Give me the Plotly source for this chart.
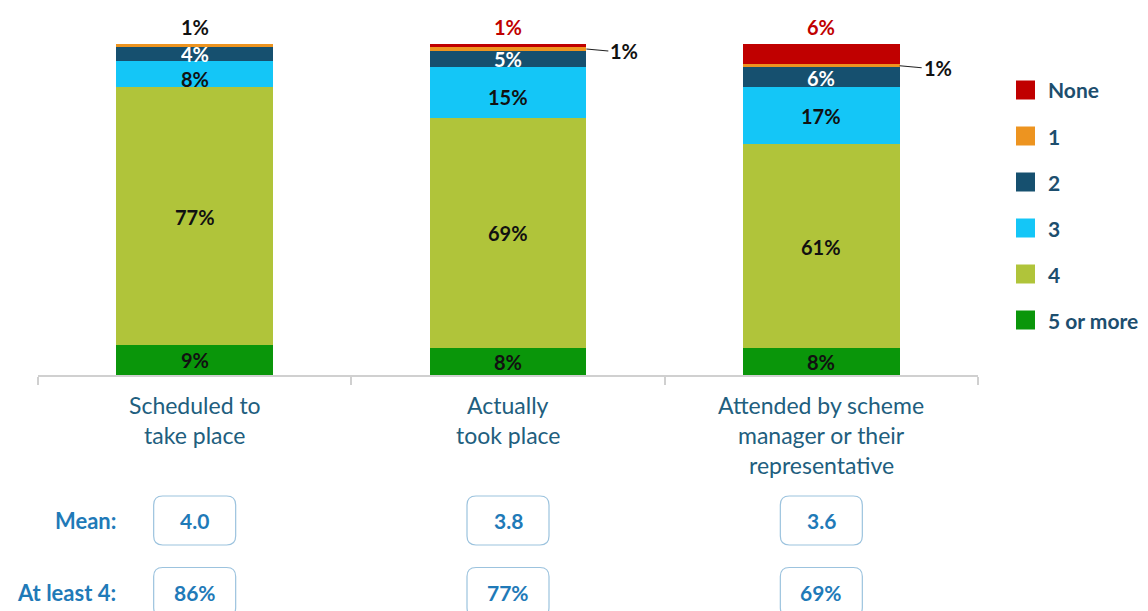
import plotly.graph_objects as go

# ---- data -------------------------------------------------------------
categories = [
    "Scheduled to take place",
    "Actually took place",
    "Attended by scheme manager or their representative",
]
category_lines = [
    ["Scheduled to", "take place"],
    ["Actually", "took place"],
    ["Attended by scheme", "manager or their", "representative"],
]
series_names = ["5 or more", "4", "3", "2", "1", "None"]
five_or_more = [9, 8, 8]
four = [77, 69, 61]
three = [8, 15, 17]
two = [4, 5, 6]
one = [1, 1, 1]
none = [0, 1, 6]
series_values = [five_or_more, four, three, two, one, none]

mean_values = ["4.0", "3.8", "3.6"]
at_least_4 = ["86%", "77%", "69%"]

# ---- styling ----------------------------------------------------------
series_colors = ["#0A960A", "#B0C43A", "#14C6F7", "#16506F", "#ED9420", "#C00000"]
label_colors = ["#111111", "#111111", "#111111", "#FFFFFF", "#111111", "#C00000"]
FONT = "Lato"
CAT_COLOR = "#215E7E"
LEGEND_COLOR = "#1D4E6E"
STAT_COLOR = "#1F7AB8"
BOX_BORDER = "#9CC3DE"
BAR_FONT = 20

W, H = 1148, 611
L, R, T, B = 38, 170, 44, 236
PLOT_W = W - L - R
PLOT_H = H - T - B
BAR_W = 0.5


def py(p):
    """pixel row -> paper y"""
    return (H - B - p) / PLOT_H


def px(p):
    """pixel column -> paper x"""
    return (p - L) / PLOT_W


fig = go.Figure()

for name, vals, col in zip(series_names, series_values, series_colors):
    fig.add_trace(go.Bar(
        x=categories, y=vals, name=name, marker=dict(color=col, line=dict(width=0)),
        width=BAR_W, showlegend=False, hovertemplate="%{x}<br>" + name + ": %{y}%<extra></extra>",
    ))

annotations = []
shapes = []

# ---- value labels -----------------------------------------------------
for ci, cat in enumerate(categories):
    base = 0
    total = sum(v[ci] for v in series_values)
    top_idx = max(si for si, v in enumerate(series_values) if v[ci] > 0)
    inside = []
    for si, vals in enumerate(series_values):
        v = vals[ci]
        if v <= 0:
            continue
        mid = base + v / 2
        txt = f"<b>{v}%</b>"
        if si == top_idx and si >= 4:
            # small top segment: label sits above the bar
            annotations.append(dict(
                x=cat, y=total, xref="x", yref="y", text=txt, showarrow=False,
                yanchor="bottom", yshift=4, height=22,
                font=dict(family=FONT, size=BAR_FONT, color=label_colors[si]),
            ))
        elif si >= 4:
            # thin segment under another: leader line to the right
            annotations.append(dict(
                x=ci + BAR_W / 2, y=mid, xref="x", yref="y", text=txt,
                showarrow=True, arrowhead=0, arrowwidth=1.2, arrowcolor="#222222",
                ax=22, ay=2, xanchor="left", standoff=0,
                font=dict(family=FONT, size=BAR_FONT, color="#111111"),
            ))
        else:
            inside.append(dict(
                x=cat, y=mid, xref="x", yref="y", text=txt, showarrow=False,
                height=17, valign="middle", yshift=0, _v=v,
                font=dict(family=FONT, size=BAR_FONT, color=label_colors[si]),
            ))
        base += v
    # thin segments: nudge their label up and the one below down
    for k in range(1, len(inside)):
        if inside[k]["_v"] <= 5:
            inside[k]["yshift"] += 1
            inside[k - 1]["yshift"] -= 4
    for a in inside:
        a.pop("_v")
        annotations.append(a)

# ---- category names under the axis -----------------------------------
for cat, lines in zip(categories, category_lines):
    for li, line in enumerate(lines):
        annotations.append(dict(
            x=cat, y=py(405 + 30 * li), xref="x", yref="paper", text=line,
            showarrow=False, yanchor="middle",
            font=dict(family=FONT, size=23, color=CAT_COLOR),
        ))

# ---- summary rows (mean / at least 4) --------------------------------
def rounded_box(cx, cy_paper, w=82, h=49, r=9):
    hw, hh = w / 2, h / 2
    path = (
        f"M {-hw + r},{-hh} L {hw - r},{-hh} Q {hw},{-hh} {hw},{-hh + r} "
        f"L {hw},{hh - r} Q {hw},{hh} {hw - r},{hh} "
        f"L {-hw + r},{hh} Q {-hw},{hh} {-hw},{hh - r} "
        f"L {-hw},{-hh + r} Q {-hw},{-hh} {-hw + r},{-hh} Z"
    )
    return dict(
        type="path", path=path, xref="x", yref="paper",
        xsizemode="pixel", ysizemode="pixel", xanchor=cx, yanchor=cy_paper,
        line=dict(color=BOX_BORDER, width=1.2), fillcolor="rgba(0,0,0,0)",
        layer="above",
    )


rows = [("Mean:", mean_values, 520.5), ("At least 4:", at_least_4, 592)]
for title, vals, yc in rows:
    annotations.append(dict(
        x=px(118), y=py(yc), xref="paper", yref="paper", text=f"<b>{title}</b>",
        showarrow=False, xanchor="right", yanchor="middle",
        font=dict(family=FONT, size=22, color=STAT_COLOR),
    ))
    for cat, val in zip(categories, vals):
        shapes.append(rounded_box(cat, py(yc)))
        annotations.append(dict(
            x=cat, y=py(yc), xref="x", yref="paper", text=f"<b>{val}</b>",
            showarrow=False, yanchor="middle",
            font=dict(family=FONT, size=21, color=STAT_COLOR),
        ))

# ---- legend (top to bottom: None ... 5 or more) -----------------------
for k, (name, col) in enumerate(zip(series_names[::-1], series_colors[::-1])):
    yc = 90 + 46 * k
    shapes.append(dict(
        type="rect", xref="paper", yref="paper",
        x0=px(1016), x1=px(1035), y0=py(yc + 9.5), y1=py(yc - 9.5),
        fillcolor=col, line=dict(width=0),
    ))
    annotations.append(dict(
        x=px(1046), y=py(yc), xref="paper", yref="paper", text=f"<b>{name}</b>",
        showarrow=False, xanchor="left", yanchor="middle",
        font=dict(family=FONT, size=21, color=LEGEND_COLOR),
    ))

fig.update_layout(
    width=W, height=H,
    margin=dict(l=L, r=R, t=T, b=B),
    barmode="stack", bargap=0,
    paper_bgcolor="white", plot_bgcolor="white",
    showlegend=False,
    font=dict(family=FONT),
    annotations=annotations, shapes=shapes,
    xaxis=dict(
        type="category", categoryorder="array", categoryarray=categories,
        range=[-0.5, 2.5], tickson="boundaries", ticks="outside", ticklen=8,
        tickcolor="#D0D0D0", tickwidth=1.5, showticklabels=False,
        showline=True, linecolor="#D0D0D0", linewidth=1.5,
        showgrid=False, zeroline=False, fixedrange=True,
    ),
    yaxis=dict(range=[0, 99], visible=False, fixedrange=True),
)

fig.write_html("out.html", config={"displayModeBar": False})
